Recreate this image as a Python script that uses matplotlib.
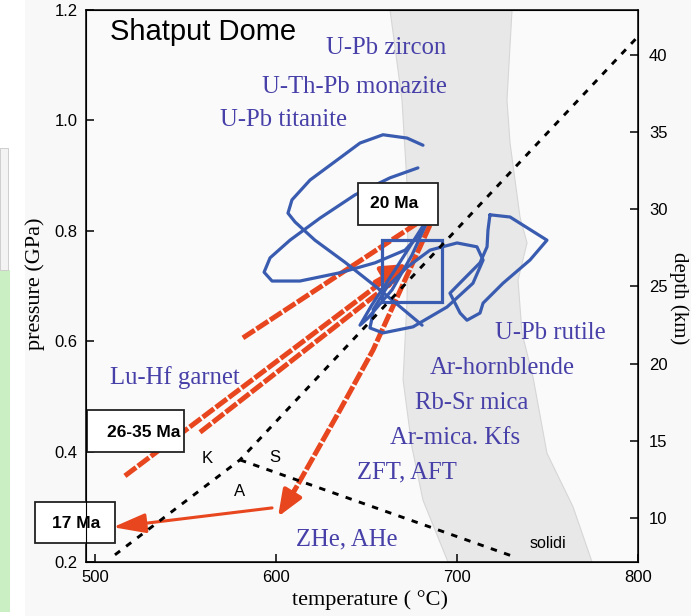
import matplotlib
matplotlib.use("Agg")
import matplotlib.pyplot as plt
from matplotlib.patches import Rectangle, Polygon

W, H = 691, 616
SANS = "Liberation Sans"
SERIF = "Liberation Serif"
BLUE = "#3a5cb0"
TXT_BLUE = "#4740a8"
RED = "#e8461e"

# axis ranges / ticks
T_LIM = (495, 800)
P_LIM = (0.2, 1.2)
DEPTH_LIM = (7.15, 42.9)
T_TICKS = [500, 600, 700, 800]
P_TICKS = [0.2, 0.4, 0.6, 0.8, 1.0, 1.2]
DEPTH_TICKS = [10, 15, 20, 25, 30, 35, 40]

# grey solidus band (left edge and right edge, top -> bottom)
band_left_T = [663.0, 669.6, 672.9, 672.4, 670.2, 675.1, 681.2, 695.0]
band_left_P = [1.200, 1.037, 0.856, 0.675, 0.530, 0.408, 0.312, 0.200]
band_right_T = [730.4, 727.6, 729.3, 734.8, 738.7, 733.7, 735.9, 742.0, 749.7, 764.1, 774.6]
band_right_P = [1.200, 1.037, 0.959, 0.825, 0.778, 0.711, 0.615, 0.535, 0.397, 0.300, 0.200]

# Al2SiO5 reaction lines
ka_ks_T = [511.0, 580.1, 800.0]
ka_ks_P = [0.213, 0.385, 1.152]
as_T = [580.1, 732.0]
as_P = [0.385, 0.209]

# blue P-T loops
loop1_T = [681.2, 672.4, 659.1, 646.4, 635.3, 618.8, 608.8, 606.6, 610.5, 621.5, 638.1, 657.4, 680.7]
loop1_P = [0.955, 0.968, 0.974, 0.959, 0.932, 0.892, 0.856, 0.832, 0.816, 0.783, 0.743, 0.693, 0.629]
loop2_T = [678.4, 663.0, 643.6, 624.3, 607.7, 596.7, 593.4, 597.8, 613.2, 635.3, 654.7, 671.3, 679.5, 681.8]
loop2_P = [0.914, 0.896, 0.865, 0.823, 0.783, 0.751, 0.725, 0.709, 0.709, 0.724, 0.742, 0.765, 0.794, 0.812]
loop3_T = [681.8, 665.7, 653.0, 646.4, 650.8, 664.1, 675.1, 682.9]
loop3_P = [0.812, 0.729, 0.666, 0.629, 0.642, 0.693, 0.756, 0.812]
oval_T = [653.6, 651.9, 659.1, 675.7, 694.5, 708.8, 714.4, 711.0, 700.0, 685.1, 672.4, 661.3, 653.6]
oval_P = [0.651, 0.624, 0.615, 0.626, 0.662, 0.705, 0.747, 0.771, 0.778, 0.765, 0.734, 0.698, 0.657]
rutile_T = [718.2, 729.3, 749.7, 740.3, 725.4, 714.4, 712.7, 705.5, 701.7, 696.1, 703.3, 712.7, 716.6, 717.1, 718.2]
rutile_P = [0.829, 0.825, 0.783, 0.747, 0.705, 0.669, 0.651, 0.638, 0.651, 0.687, 0.711, 0.742, 0.771, 0.801, 0.829]
square_T = [658.6, 691.7]
square_P = [0.671, 0.783]

# red paths
red1_T = [581.7, 682.3]
red1_P = [0.606, 0.823]
red2_T = [516.5, 665.7]
red2_P = [0.356, 0.725]
red3_T = [558.0, 665.7]
red3_P = [0.435, 0.711]
head23_T = [654.7, 672.4]
head23_P = [0.707, 0.740]
red4_T = [685.0, 653.6, 635.3, 609.4]
red4_P = [0.810, 0.584, 0.475, 0.325]
head4_T = [611.0, 601.1]
head4_P = [0.335, 0.282]
red5_T = [597.8, 509.9]
red5_P = [0.298, 0.263]

# labels
blue_labels = ["U-Pb zircon", "U-Th-Pb monazite", "U-Pb titanite", "Lu-Hf garnet",
               "U-Pb rutile", "Ar-hornblende", "Rb-Sr mica", "Ar-mica. Kfs",
               "ZFT, AFT", "ZHe, AHe"]
blue_T = [627.6, 592.2, 569.0, 508.3, 721.0, 685.1, 676.8, 663.0, 644.7, 611.0]
blue_P = [1.131, 1.061, 1.001, 0.535, 0.615, 0.551, 0.488, 0.425, 0.363, 0.240]

age_labels = ["20 Ma", "26-35 Ma", "17 Ma"]
age_box_T = [(645.3, 689.5), (495.6, 549.1), (466.8, 511.0)]
age_box_P = [(0.8105, 0.8866), (0.399, 0.475), (0.234, 0.309)]
age_txt_T = [665.2, 526.8, 489.5]
age_txt_P = [0.849, 0.434, 0.269]

fig = plt.figure(figsize=(W / 100, H / 100), dpi=100)
fig.patch.set_facecolor("#f8f8f8")
fig.patches.append(Rectangle((0, 0), 25 / W, 1, transform=fig.transFigure,
                             facecolor="white", edgecolor="none", zorder=-5))
fig.patches.append(Rectangle((0, 1 - 612 / H), 10 / W, 342 / H, transform=fig.transFigure,
                             facecolor="#c9efc3", edgecolor="none", zorder=-4))
fig.patches.append(Rectangle((0, 1 - 270 / H), 8 / W, 122 / H, transform=fig.transFigure,
                             facecolor="#f3f3f3", edgecolor="#c8c8c8", lw=0.6, zorder=-4))

ax = fig.add_axes([86 / W, 1 - 562 / H, 552 / W, 552 / H])
ax.set_facecolor("#fafafa")
ax.set_xlim(T_LIM)
ax.set_ylim(P_LIM)

band = list(zip(band_left_T, band_left_P)) + list(zip(band_right_T[::-1], band_right_P[::-1]))
ax.add_patch(Polygon(band, closed=True, facecolor="#e8e8e8", edgecolor="#d6d6d6", lw=0.8, zorder=1))

# red paths
red_dash = (0, (2.8, 0.45))
for tt, pp in [(red1_T, red1_P), (red2_T, red2_P), (red3_T, red3_P), (red4_T, red4_P)]:
    ax.plot(tt, pp, color=RED, lw=3.6, ls=red_dash, dash_capstyle="butt", zorder=3)
ax.annotate("", xy=(head23_T[1], head23_P[1]), xytext=(head23_T[0], head23_P[0]),
            arrowprops=dict(arrowstyle="-|>,head_length=0.75,head_width=0.35", color=RED,
                            lw=3.5, shrinkA=0, shrinkB=0, mutation_scale=20), zorder=3)
ax.annotate("", xy=(head4_T[1], head4_P[1]), xytext=(head4_T[0], head4_P[0]),
            arrowprops=dict(arrowstyle="-|>,head_length=0.8,head_width=0.32", color=RED,
                            lw=3, shrinkA=0, shrinkB=0, mutation_scale=20), zorder=3)
ax.annotate("", xy=(red5_T[1], red5_P[1]), xytext=(red5_T[0], red5_P[0]),
            arrowprops=dict(arrowstyle="-|>,head_length=1.0,head_width=0.3", color=RED,
                            lw=2.2, shrinkA=0, shrinkB=0, mutation_scale=20), zorder=3)

# blue loops
for tt, pp in [(loop1_T, loop1_P), (loop2_T, loop2_P), (loop3_T, loop3_P),
               (oval_T, oval_P), (rutile_T, rutile_P)]:
    ax.plot(tt, pp, color=BLUE, lw=2.3, solid_joinstyle="round", solid_capstyle="round", zorder=4)
ax.add_patch(Rectangle((square_T[0], square_P[0]), square_T[1] - square_T[0],
                       square_P[1] - square_P[0], fill=False, edgecolor=BLUE, lw=2.3, zorder=4))

# reaction lines
dots = (0, (2.2, 2.6))
ax.plot(ka_ks_T, ka_ks_P, color="black", lw=2.1, ls=dots, dash_capstyle="butt", zorder=5)
ax.plot(as_T, as_P, color="black", lw=2.1, ls=dots, dash_capstyle="butt", zorder=5)
for s, t, p in [("K", 561.9, 0.388), ("S", 599.4, 0.390), ("A", 580.1, 0.327)]:
    ax.text(t, p, s, fontsize=12, family=SANS, ha="center", va="center", zorder=6)
ax.text(750.3, 0.233, "solidi", fontsize=11.5, family=SANS, ha="center", va="center", zorder=6)

ax.text(508.3, 1.160, "Shatput Dome", fontsize=21, family=SANS, ha="left", va="center", zorder=6)
for s, t, p in zip(blue_labels, blue_T, blue_P):
    ax.text(t, p, s, fontsize=17.8, family=SERIF, color=TXT_BLUE, ha="left", va="center", zorder=6)

for s, (t0, t1), (p0, p1), tx, py in zip(age_labels, age_box_T, age_box_P, age_txt_T, age_txt_P):
    ax.add_patch(Rectangle((t0, p0), t1 - t0, p1 - p0, facecolor="white", edgecolor="#222222",
                           lw=1.3, clip_on=False, zorder=8))
    ax.text(tx, py, s, fontsize=12.5, family=SANS, fontweight="bold", ha="center", va="center",
            zorder=9, clip_on=False)

# axes styling
ax.set_xticks(T_TICKS)
ax.set_yticks(P_TICKS)
ax.set_yticklabels([f"{v:.1f}" for v in P_TICKS])
ax.tick_params(direction="in", length=6, width=1.1, labelsize=12, pad=6)
for lbl in ax.get_xticklabels() + ax.get_yticklabels():
    lbl.set_family(SANS)
for sp in ax.spines.values():
    sp.set_linewidth(1.1)

ax.set_xlabel("temperature ( °C)", family=SERIF, fontsize=16)
ax.xaxis.set_label_coords(0.5145, -0.0688)
ax.xaxis.label.set_va("center")
ax.set_ylabel("pressure (GPa)", family=SERIF, fontsize=16)
ax.yaxis.set_label_coords(-0.0924, 0.504)
ax.yaxis.label.set_va("center")

ax2 = ax.twinx()
ax2.set_ylim(DEPTH_LIM)
ax2.set_yticks(DEPTH_TICKS)
ax2.tick_params(direction="in", length=6, width=1.1, labelsize=12, pad=8)
for lbl in ax2.get_yticklabels():
    lbl.set_family(SANS)
ax2.set_ylabel("depth (km)", family=SERIF, fontsize=15, rotation=270)
ax2.yaxis.set_label_coords(1.0745, 0.478)
ax2.yaxis.label.set_va("center")

fig.savefig("out.png", dpi=100, facecolor=fig.get_facecolor())
